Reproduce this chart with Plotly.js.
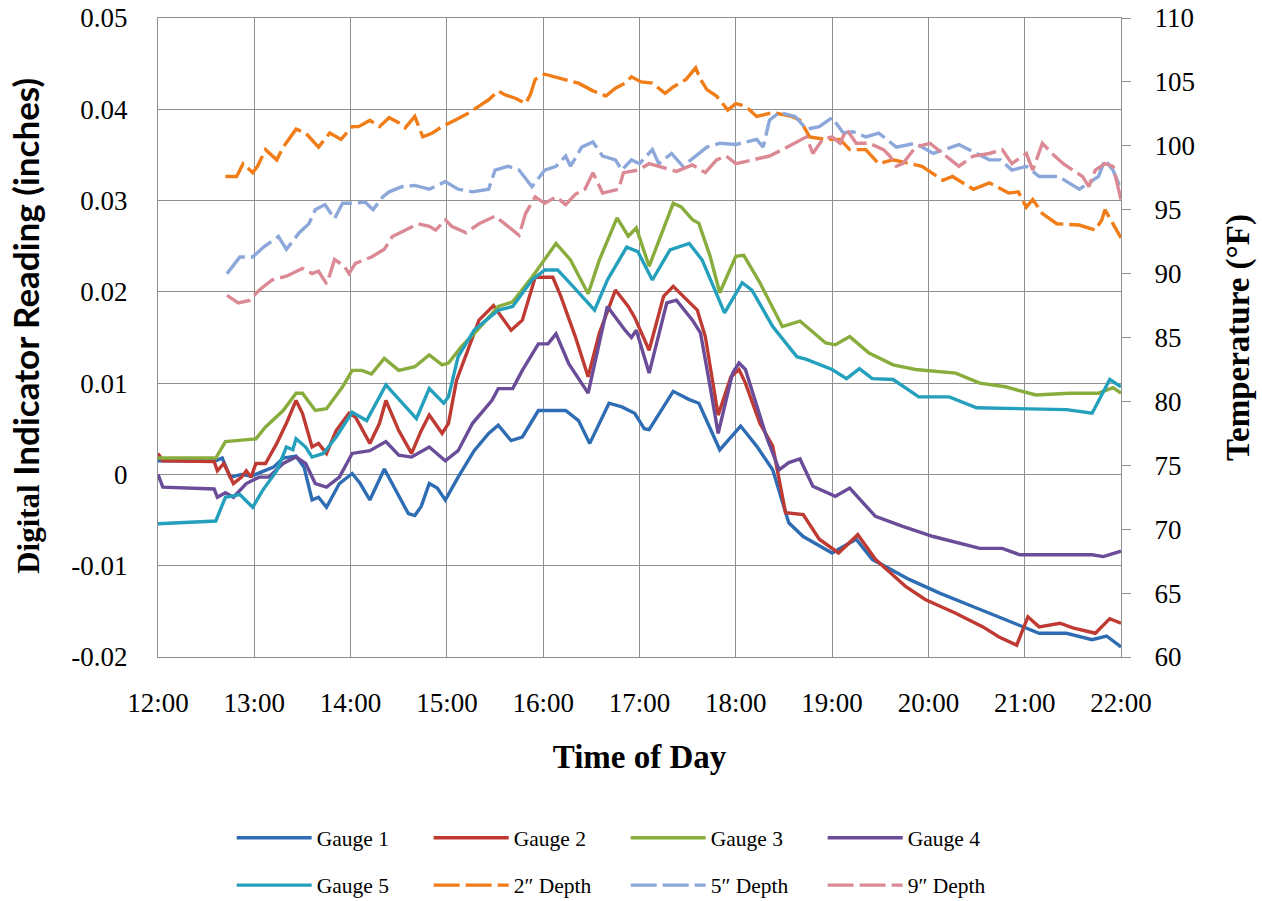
<!DOCTYPE html>
<html>
<head>
<meta charset="utf-8">
<script src="https://cdn.plot.ly/plotly-3.0.1.min.js"></script>
<style>
html,body{margin:0;padding:0;background:#fff;}
#chart{width:1262px;height:901px;}
</style>
</head>
<body>
<div id="chart"></div>
<script>
// ---------- DATA ----------
const g1T = ["12:00","12:36","12:40","12:45","12:52","12:58","13:05","13:12","13:18","13:26","13:31","13:36","13:40","13:45","13:53","14:01","14:06","14:12","14:21","14:28","14:36","14:40","14:44","14:49","14:54","14:59","15:07","15:17","15:26","15:32","15:40","15:47","15:57","16:14","16:22","16:29","16:35","16:41","16:49","16:57","17:03","17:06","17:21","17:31","17:37","17:50","18:03","18:13","18:23","18:33","18:42","19:00","19:15","19:25","19:48","20:07","20:28","20:48","21:09","21:26","21:42","21:51","22:00"];
const g1V = [0.0015,0.0015,0.0018,-0.0003,0.0000,-0.0002,0.0003,0.0008,0.0018,0.0020,0.0008,-0.0028,-0.0025,-0.0036,-0.0010,0.0001,-0.0010,-0.0028,0.0006,-0.0017,-0.0043,-0.0045,-0.0035,-0.0010,-0.0015,-0.0028,-0.0003,0.0026,0.0045,0.0054,0.0037,0.0041,0.0070,0.0070,0.0059,0.0034,0.0055,0.0078,0.0074,0.0067,0.0050,0.0049,0.0091,0.0082,0.0078,0.0027,0.0053,0.0031,0.0005,-0.0053,-0.0068,-0.0086,-0.0071,-0.0093,-0.0115,-0.0130,-0.0145,-0.0159,-0.0174,-0.0174,-0.0181,-0.0177,-0.0189];

const g2T = ["12:00","12:03","12:35","12:37","12:41","12:47","12:52","12:55","12:58","13:01","13:07","13:14","13:20","13:26","13:30","13:36","13:40","13:45","13:51","13:59","14:03","14:12","14:18","14:22","14:30","14:38","14:44","14:49","14:57","15:01","15:06","15:14","15:20","15:29","15:40","15:47","15:55","16:06","16:11","16:20","16:28","16:35","16:45","16:53","16:57","17:06","17:15","17:21","17:31","17:36","17:41","17:49","17:57","18:02","18:06","18:15","18:23","18:31","18:42","18:52","19:04","19:16","19:27","19:46","19:58","20:17","20:34","20:44","20:55","21:02","21:09","21:22","21:30","21:44","21:53","22:00"];
const g2V = [0.0023,0.0015,0.0014,0.0004,0.0012,-0.0010,-0.0003,0.0004,-0.0003,0.0012,0.0012,0.0034,0.0056,0.0081,0.0067,0.0030,0.0034,0.0023,0.0048,0.0067,0.0063,0.0034,0.0056,0.0081,0.0048,0.0023,0.0048,0.0065,0.0045,0.0056,0.0103,0.0140,0.0169,0.0185,0.0158,0.0169,0.0216,0.0216,0.0195,0.0151,0.0107,0.0155,0.0202,0.0184,0.0172,0.0136,0.0195,0.0206,0.0188,0.0180,0.0151,0.0065,0.0107,0.0115,0.0100,0.0056,0.0031,-0.0042,-0.0044,-0.0071,-0.0086,-0.0066,-0.0093,-0.0123,-0.0137,-0.0152,-0.0167,-0.0178,-0.0187,-0.0156,-0.0167,-0.0163,-0.0168,-0.0174,-0.0158,-0.0163];

const g3T = ["12:00","12:36","12:42","13:01","13:07","13:18","13:26","13:30","13:38","13:45","13:55","14:01","14:07","14:13","14:21","14:30","14:40","14:49","14:57","15:01","15:09","15:19","15:32","15:41","15:53","16:01","16:08","16:17","16:28","16:35","16:46","16:53","16:58","17:06","17:21","17:26","17:33","17:37","17:44","17:50","18:00","18:05","18:15","18:29","18:40","18:56","19:02","19:11","19:23","19:38","19:52","20:17","20:32","20:48","21:07","21:28","21:46","21:55","22:00"];
const g3V = [0.0018,0.0018,0.0036,0.0039,0.0052,0.0070,0.0089,0.0089,0.0070,0.0072,0.0096,0.0114,0.0114,0.0110,0.0127,0.0114,0.0118,0.0131,0.0120,0.0122,0.0140,0.0158,0.0184,0.0189,0.0216,0.0235,0.0253,0.0235,0.0198,0.0235,0.0281,0.0261,0.0270,0.0228,0.0297,0.0293,0.0279,0.0275,0.0239,0.0199,0.0239,0.0240,0.0210,0.0162,0.0168,0.0144,0.0142,0.0151,0.0133,0.0120,0.0115,0.0111,0.0100,0.0096,0.0087,0.0089,0.0089,0.0095,0.0089];

const g4T = ["12:00","12:03","12:35","12:37","12:42","12:47","12:55","13:03","13:09","13:18","13:26","13:32","13:38","13:45","13:53","14:01","14:12","14:22","14:30","14:38","14:49","14:59","15:07","15:16","15:28","15:32","15:41","15:47","15:57","16:03","16:08","16:16","16:28","16:40","16:51","16:55","16:58","17:06","17:17","17:23","17:33","17:38","17:44","17:49","17:58","18:02","18:06","18:19","18:27","18:33","18:40","18:48","19:02","19:11","19:27","19:44","20:03","20:19","20:32","20:46","20:57","21:42","21:49","22:00"];
const g4V = [0.0000,-0.0014,-0.0016,-0.0025,-0.0020,-0.0025,-0.0010,-0.0003,-0.0003,0.0012,0.0019,0.0012,-0.0010,-0.0014,-0.0003,0.0023,0.0026,0.0036,0.0021,0.0019,0.0030,0.0015,0.0026,0.0056,0.0081,0.0094,0.0094,0.0114,0.0143,0.0143,0.0154,0.0121,0.0089,0.0184,0.0158,0.0150,0.0158,0.0111,0.0188,0.0191,0.0169,0.0155,0.0096,0.0045,0.0111,0.0122,0.0115,0.0042,0.0005,0.0013,0.0017,-0.0013,-0.0024,-0.0015,-0.0046,-0.0057,-0.0068,-0.0075,-0.0081,-0.0081,-0.0088,-0.0088,-0.0090,-0.0084];

const g5T = ["12:00","12:36","12:42","12:51","12:59","13:05","13:14","13:20","13:24","13:26","13:32","13:36","13:43","13:51","14:01","14:10","14:22","14:32","14:41","14:49","14:58","15:01","15:07","15:17","15:32","15:41","15:53","16:01","16:09","16:17","16:32","16:40","16:52","16:59","17:08","17:19","17:31","17:39","17:53","18:04","18:10","18:23","18:38","18:44","19:00","19:09","19:17","19:25","19:38","19:54","20:13","20:30","21:26","21:42","21:53","22:00"];
const g5V = [-0.0054,-0.0051,-0.0025,-0.0022,-0.0036,-0.0018,0.0004,0.0030,0.0027,0.0039,0.0030,0.0019,0.0023,0.0041,0.0068,0.0059,0.0098,0.0078,0.0061,0.0094,0.0078,0.0085,0.0129,0.0158,0.0180,0.0184,0.0213,0.0224,0.0224,0.0209,0.0180,0.0213,0.0249,0.0244,0.0213,0.0246,0.0253,0.0235,0.0177,0.0210,0.0202,0.0162,0.0129,0.0126,0.0115,0.0105,0.0116,0.0105,0.0104,0.0085,0.0085,0.0073,0.0071,0.0067,0.0104,0.0096];

const d2T = ["12:42","12:49","12:53","12:59","13:02","13:07","13:14","13:18","13:26","13:32","13:40","13:47","13:54","14:01","14:05","14:12","14:18","14:24","14:30","14:34","14:40","14:45","14:51","14:57","15:05","15:14","15:20","15:26","15:32","15:36","15:43","15:49","15:52","15:55","16:01","16:12","16:22","16:31","16:39","16:45","16:51","16:55","17:01","17:08","17:16","17:21","17:29","17:35","17:38","17:42","17:48","17:55","18:00","18:06","18:13","18:23","18:35","18:40","18:46","18:56","19:05","19:11","19:21","19:29","19:38","19:56","20:09","20:15","20:28","20:38","20:50","20:56","21:01","21:05","21:11","21:20","21:34","21:44","21:48","21:50","21:57","22:00"];
const d2V = [97.6,97.6,98.6,97.9,98.4,99.7,98.9,99.9,101.3,101.0,99.9,101.0,100.5,101.5,101.5,102.0,101.5,102.2,101.8,101.4,102.3,100.7,101.0,101.5,102.0,102.6,103.1,103.6,104.3,104.0,103.7,103.3,104.0,105.2,105.6,105.2,104.9,104.3,103.9,104.5,104.9,105.4,105.0,104.9,104.1,104.6,105.2,106.1,105.2,104.4,103.9,102.8,103.3,103.1,102.3,102.6,102.3,102.0,100.7,100.5,100.5,99.7,99.7,98.6,98.9,98.4,97.3,97.6,96.6,97.1,96.3,96.4,95.2,95.8,94.7,93.9,93.8,93.4,94.2,95.0,93.4,92.8];

const d5T = ["12:43","12:51","12:59","13:06","13:15","13:20","13:28","13:34","13:38","13:44","13:50","13:55","14:01","14:09","14:14","14:20","14:24","14:32","14:40","14:49","14:59","15:07","15:16","15:26","15:30","15:38","15:45","15:53","16:01","16:08","16:14","16:17","16:24","16:31","16:37","16:45","16:49","16:55","17:00","17:08","17:12","17:20","17:27","17:35","17:42","17:50","18:00","18:13","18:17","18:21","18:27","18:37","18:44","18:52","19:00","19:07","19:13","19:21","19:29","19:40","19:52","20:03","20:19","20:38","20:45","20:52","21:01","21:09","21:21","21:34","21:42","21:46","21:50","21:55","22:00"];
const d5V = [90.0,91.3,91.3,92.1,92.9,91.9,93.2,93.9,95.0,95.4,94.3,95.5,95.5,95.6,95.0,96.0,96.4,96.8,96.9,96.6,97.2,96.6,96.4,96.6,98.1,98.4,98.1,96.8,98.1,98.4,99.2,98.4,99.9,100.3,99.2,98.9,98.1,98.9,98.6,99.7,98.6,99.4,98.4,99.2,99.9,100.2,100.1,100.5,99.9,102.0,102.6,102.3,101.3,101.5,102.2,101.0,101.1,100.7,101.0,99.9,100.2,99.4,100.1,98.9,98.9,98.1,98.4,97.6,97.6,96.6,97.3,97.6,98.9,98.1,96.6];

const d9T = ["12:43","12:50","12:57","13:03","13:11","13:20","13:30","13:36","13:40","13:45","13:47","13:50","13:56","13:59","14:03","14:13","14:21","14:26","14:34","14:42","14:49","14:53","14:59","15:03","15:12","15:20","15:30","15:38","15:45","15:49","15:55","16:01","16:08","16:14","16:20","16:26","16:31","16:37","16:47","16:50","16:59","17:06","17:12","17:23","17:33","17:41","17:48","17:54","18:00","18:11","18:21","18:29","18:37","18:44","18:48","18:54","19:00","19:05","19:09","19:15","19:23","19:32","19:36","19:40","19:44","19:52","20:01","20:11","20:19","20:28","20:38","20:46","20:52","21:01","21:05","21:11","21:17","21:24","21:30","21:36","21:40","21:44","21:50","21:55","22:00"];
const d9V = [88.3,87.7,87.9,88.7,89.5,89.8,90.4,90.0,90.2,89.2,89.9,91.1,90.6,90.0,90.8,91.3,91.9,92.9,93.4,93.9,93.7,93.4,94.2,93.7,93.2,93.9,94.5,93.7,93.0,94.7,96.0,95.5,96.0,95.4,96.2,96.6,97.9,96.3,96.6,97.9,98.1,98.6,98.4,98.0,98.5,97.9,98.9,99.2,98.6,98.9,99.2,99.7,100.2,100.7,99.4,100.5,100.7,100.2,101.3,100.2,100.2,99.7,99.2,98.4,98.6,99.9,100.2,99.2,98.4,99.2,99.4,99.7,98.6,99.4,98.1,100.2,99.4,98.6,98.1,97.6,96.8,98.1,98.6,98.4,95.8];

const seriesNames = ["Gauge 1","Gauge 2","Gauge 3","Gauge 4","Gauge 5","2\u2033 Depth","5\u2033 Depth","9\u2033 Depth"];
const xTickVals = ["12:00","13:00","14:00","15:00","16:00","17:00","18:00","19:00","20:00","21:00","22:00"];
const yTickVals = [0.05,0.04,0.03,0.02,0.01,0,-0.01,-0.02];
const yTickText = ["0.05","0.04","0.03","0.02","0.01","0","-0.01","-0.02"];
const y2TickVals = [110,105,100,95,90,85,80,75,70,65,60];

// ---------- BUILD ----------
const toDate = t => "2000-01-01 " + t;
const colors = ["#2e6db3","#be3a32","#88ad3c","#6a4c98","#24a0bd","#f07d17","#8ca7d9","#db8a95"];
const gauges = [[g1T,g1V],[g2T,g2V],[g3T,g3V],[g4T,g4V],[g5T,g5V]];
const depths = [[d2T,d2V],[d5T,d5V],[d9T,d9V]];
const traces = [];
depths.forEach((d,i)=>{
  traces.push({x:d[0].map(toDate), y:d[1], yaxis:'y2', type:'scatter', mode:'lines',
    name:seriesNames[5+i], legend:'legend2', legendrank:6+i,
    line:{color:colors[5+i], width:3.4, dash:'26px,6px'}});
});
gauges.forEach((g,i)=>{
  traces.push({x:g[0].map(toDate), y:g[1], type:'scatter', mode:'lines',
    name:seriesNames[i], legend: i<4 ? 'legend' : 'legend2', legendrank:1+i,
    line:{color:colors[i], width:3.4}});
});

const serif = "'Liberation Serif','Times New Roman',serif";
const gridC = "#8f8f8f";
const legendCommon = {orientation:'h', xanchor:'left', yanchor:'middle', entrywidth:107, entrywidthmode:'pixels',
  itemwidth:75, font:{family:serif, size:21.5, color:'#000'}, bgcolor:'rgba(0,0,0,0)', traceorder:'normal'};

const layout = {
  width:1262, height:901,
  margin:{l:158, r:141, t:18, b:244, autoexpand:false},
  paper_bgcolor:'#fff', plot_bgcolor:'#fff',
  showlegend:true,
  font:{family:serif, color:'#000'},
  xaxis:{type:'date', range:[toDate("12:00"), toDate("22:00")],
    tickvals:xTickVals.map(toDate), ticktext:xTickVals,
    showgrid:true, gridcolor:gridC, gridwidth:1, showline:true, linecolor:gridC, linewidth:1, mirror:true,
    ticks:'', ticklabelstandoff:22, tickfont:{family:serif, size:27, color:'#000'},
    title:{text:'Time of Day', font:{family:serif, size:33, color:'#000', weight:'bold'}, standoff:27},
    zeroline:false, automargin:false},
  yaxis:{range:[-0.02,0.05], tickvals:yTickVals, ticktext:yTickText,
    showgrid:true, gridcolor:gridC, gridwidth:1, showline:true, linecolor:gridC, linewidth:1, mirror:true,
    ticks:'', ticklabelstandoff:24, tickfont:{family:serif, size:27, color:'#000'},
    title:{text:'<span style="font-family:\'Liberation Serif\',serif;font-size:31px">\u00A0\u00A0\u00A0Digital</span> Indicator Reading (inches)',
      font:{family:"Lato, 'Noto Sans', sans-serif", size:35, color:'#000', weight:'bold'}, standoff:21},
    zeroline:false, automargin:false},
  yaxis2:{range:[60,110], tickvals:y2TickVals, overlaying:'y', side:'right',
    showgrid:false, zeroline:false, showline:true, linecolor:gridC,
    ticks:'outside', ticklen:9, tickcolor:gridC, ticklabelstandoff:18,
    tickfont:{family:serif, size:27, color:'#000'},
    title:{text:'Temperature (\u00B0F)', font:{family:serif, size:33, color:'#000', weight:'bold'}, standoff:31},
    automargin:false},
  legend: Object.assign({x:0.0765, y:-0.283}, legendCommon),
  legend2: Object.assign({x:0.0765, y:-0.357}, legendCommon)
};

Plotly.newPlot('chart', traces, layout, {displayModeBar:false, staticPlot:true});
</script>
</body>
</html>
